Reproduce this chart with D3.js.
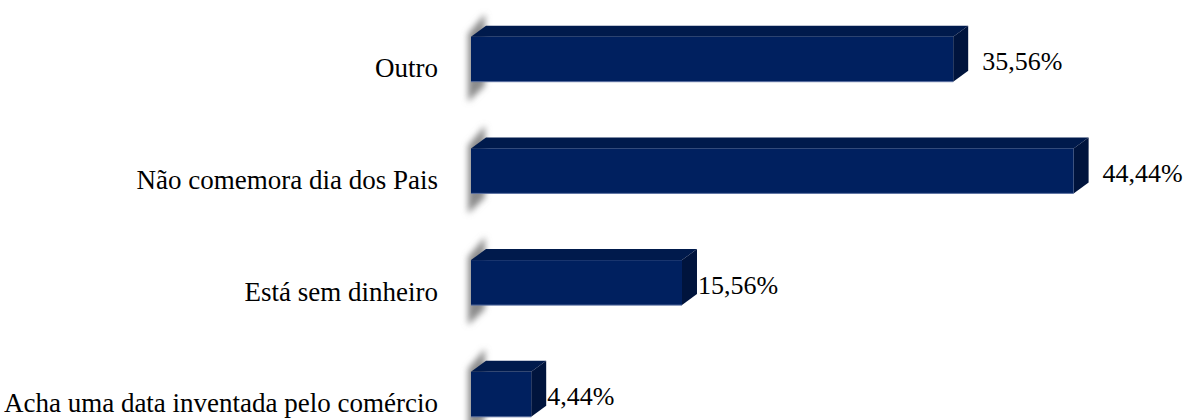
<!DOCTYPE html>
<html>
<head>
<meta charset="utf-8">
<script src="https://cdn.jsdelivr.net/npm/d3@7"></script>
<style>
  html, body { margin: 0; padding: 0; background: #ffffff; }
  svg { display: block; }
  text { font-family: "Liberation Serif", "Times New Roman", serif; fill: #000; }
</style>
</head>
<body>
<svg id="chart" width="1184" height="420"></svg>
<script>
const categories = ["Outro", "Não comemora dia dos Pais", "Está sem dinheiro", "Acha uma data inventada pelo comércio"];
const values = [35.56, 44.44, 15.56, 4.44];
const valueLabels = ["35,56%", "44,44%", "15,56%", "4,44%"];

const W = 1184, H = 420;
const svg = d3.select("#chart");

const x = d3.scaleLinear().domain([0, 50]).range([471, 1149]);
const y = d3.scaleBand().domain(categories).range([3.35, 450.15]).padding(0);

const barH = 45, dx = 15, dy = 11;
const cFront = "#00205f", cTop = "#001a4c", cSide = "#00143d";

const defs = svg.append("defs");
const blur = defs.append("filter").attr("id", "blur").attr("x", "-50%").attr("y", "-50%").attr("width", "200%").attr("height", "200%");
blur.append("feGaussianBlur").attr("stdDeviation", 3);

const data = categories.map((c, i) => ({ c, v: values[i], label: valueLabels[i] }));

const g = svg.append("g");

// shadows
g.selectAll("path.shadow").data(data).enter().append("path")
  .attr("class", "shadow")
  .attr("d", d => {
    const yc = y(d.c) + y.bandwidth() / 2;
    const top = yc - barH / 2 - dy;
    const x0 = x(0);
    return `M${x0 - 3},${top + 8} L${x0 + dx - 1},${top - 12} L${x0 + dx - 1},${yc + barH / 2 + 4} L${x0 - 3},${yc + barH / 2 + 20} Z`;
  })
  .attr("fill", "#8c8c8c")
  .attr("filter", "url(#blur)");

const bars = g.selectAll("g.bar").data(data).enter().append("g").attr("class", "bar");

bars.append("path")
  .attr("d", d => {
    const yt = y(d.c) + y.bandwidth() / 2 - barH / 2;
    const x0 = x(0), x1 = x(d.v);
    return `M${x0},${yt} L${x0 + dx},${yt - dy} L${x1 + dx},${yt - dy} L${x1},${yt} Z`;
  })
  .attr("fill", cTop);

bars.append("path")
  .attr("d", d => {
    const yt = y(d.c) + y.bandwidth() / 2 - barH / 2;
    const x1 = x(d.v);
    return `M${x1},${yt} L${x1 + dx},${yt - dy} L${x1 + dx},${yt + barH - dy} L${x1},${yt + barH} Z`;
  })
  .attr("fill", cSide);

bars.append("rect")
  .attr("x", x(0))
  .attr("y", d => y(d.c) + y.bandwidth() / 2 - barH / 2)
  .attr("width", d => x(d.v) - x(0))
  .attr("height", barH)
  .attr("fill", cFront);

bars.append("line")
  .attr("x1", x(0))
  .attr("x2", d => x(d.v))
  .attr("y1", d => y(d.c) + y.bandwidth() / 2 + barH / 2)
  .attr("y2", d => y(d.c) + y.bandwidth() / 2 + barH / 2)
  .attr("stroke", "#5a6fa0").attr("stroke-width", 1);

// value labels
g.selectAll("text.val").data(data).enter().append("text")
  .attr("class", "val")
  .attr("x", d => x(d.v) + dx + (d.v > 30 ? 14 : 1))
  .attr("y", d => y(d.c) + y.bandwidth() / 2 + 11)
  .attr("font-size", 26)
  .text(d => d.label);

// category labels
g.selectAll("text.cat").data(data).enter().append("text")
  .attr("class", "cat")
  .attr("x", 438)
  .attr("y", d => y(d.c) + y.bandwidth() / 2 + 18)
  .attr("text-anchor", "end")
  .attr("font-size", 27)
  .text(d => d.c);
</script>
</body>
</html>
